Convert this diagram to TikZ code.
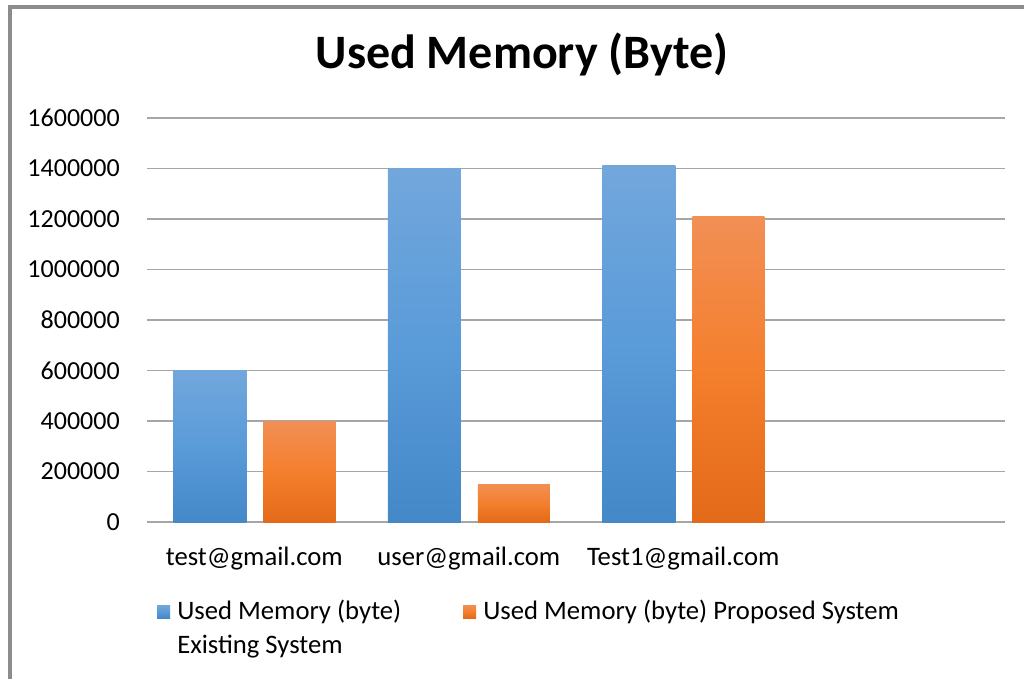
\documentclass[tikz,border=0pt]{standalone}
\usepackage{fontspec}
\setmainfont{Carlito}
\definecolor{gridgray}{HTML}{A6A6A6}
\definecolor{framegray}{HTML}{8C8C8C}
\definecolor{bluetop}{HTML}{72A7DC}
\definecolor{bluemid}{HTML}{5A9BD9}
\definecolor{bluebot}{HTML}{4488C8}
\definecolor{orangetop}{HTML}{F28F55}
\definecolor{orangemid}{HTML}{F47F2D}
\definecolor{orangebot}{HTML}{E36A19}
% value given in thousands of bytes
\newcommand{\ypos}[1]{522-#1/200*50.5}
\begin{document}
\begin{tikzpicture}[
        x=0.75pt, y=-0.75pt,
        gridline/.style={draw=gridgray, line width=1.1pt},
        ticklabel/.style={anchor=east, font=\fontsize{19.5}{25.5}\selectfont, inner sep=0pt},
        catlabel/.style={anchor=base, font=\fontsize{20}{25.5}\selectfont, inner sep=0pt},
        legendtext/.style={anchor=north west, align=left, font=\fontsize{20}{25.5}\selectfont, inner sep=0pt},
        bluebar/.style={top color=bluetop, bottom color=bluebot, middle color=bluemid},
        orangebar/.style={top color=orangetop, bottom color=orangebot, middle color=orangemid},
    ]
    \useasboundingbox (0,0) rectangle (1024,679);
    \fill[white] (0,0) rectangle (1024,679);
    % frame
    \draw[framegray, line width=2.4pt] (10,679) -- (10,7) -- (1024,7);
    % title
    \node[anchor=base, inner sep=0pt, font=\fontsize{36}{40}\selectfont\bfseries] (title) at (522,68) {Used Memory (Byte)};
    % grid and axis labels
    \foreach \v/\t in {0/0,1/200000,2/400000,3/600000,4/800000,5/1000000,6/1200000,7/1400000,8/1600000} {
        \draw[gridline] (147,522-\v*50.5) -- (1005,522-\v*50.5);
        \node[ticklabel] (tick\v) at (120,522-\v*50.5) {\t};
    }
    % bars
    \foreach \c/\e/\p in {254.25/600/400, 468.75/1400/150, 683.25/1410/1210} {
        \shade[bluebar] (\c-81,522) rectangle (\c-8,{\ypos{\e}});
        \shade[orangebar] (\c+9,522) rectangle (\c+81,{\ypos{\p}});
    }
    % categories
    \node[catlabel] (cat1) at (254.25,565) {test@gmail.com};
    \node[catlabel] (cat2) at (468.75,565) {user@gmail.com};
    \node[catlabel] (cat3) at (683.25,565) {Test1@gmail.com};
    % legend
    \shade[bluebar] (157,605) rectangle (170,618);
    \node[legendtext] (legexist) at (177,600) {Used Memory (byte)\\Existing System};
    \shade[orangebar] (463,605) rectangle (476,618);
    \node[legendtext] (legprop) at (483,600) {Used Memory (byte) Proposed System};
\end{tikzpicture}
\end{document}
